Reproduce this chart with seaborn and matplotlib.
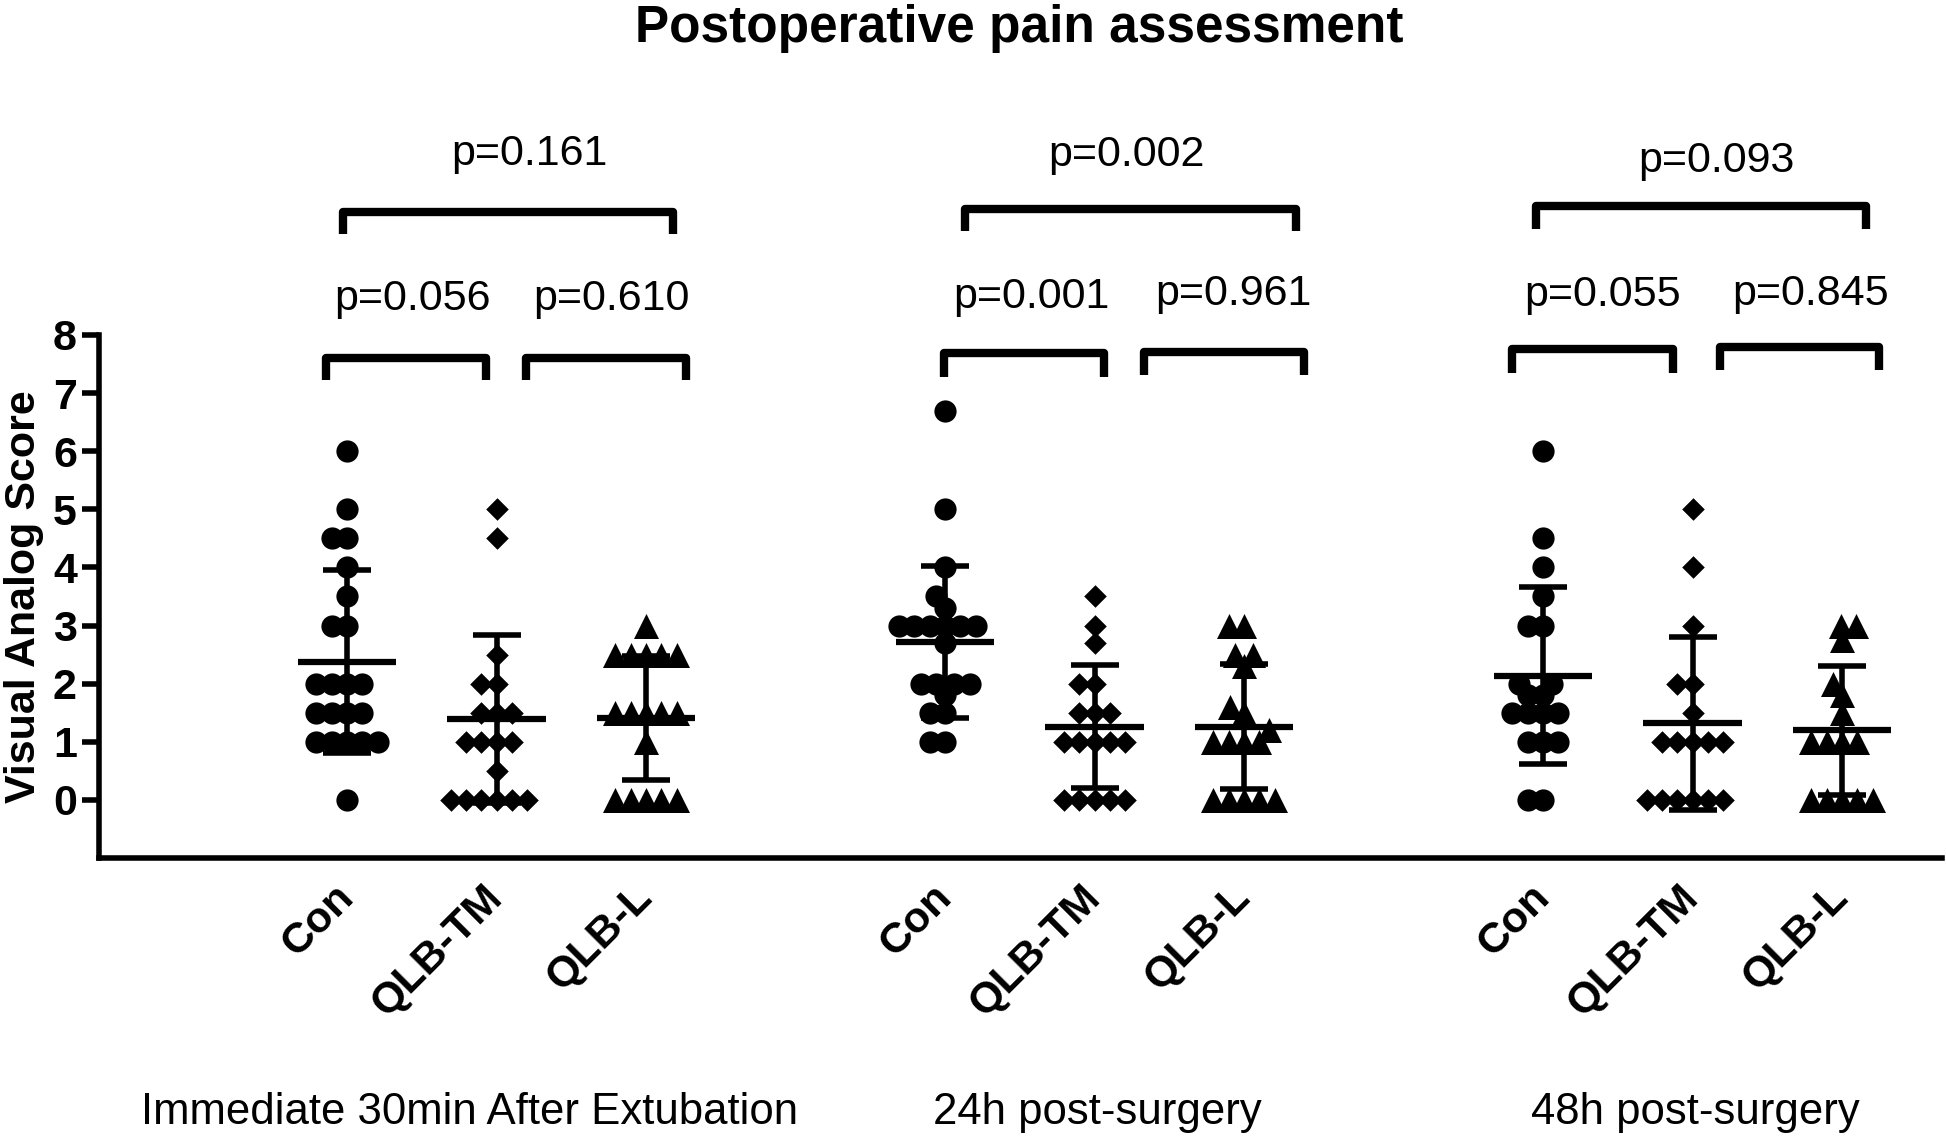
import numpy as np
import pandas as pd
import matplotlib
matplotlib.use("Agg")
import matplotlib.pyplot as plt
import seaborn as sns
from matplotlib.transforms import blended_transform_factory

# ---------------- data ----------------
timepoints = ["Immediate 30min After Extubation", "24h post-surgery", "48h post-surgery"]
groups = ["Con", "QLB-TM", "QLB-L"]

con_30min = [6, 5, 4.5, 4.5, 4, 3.5, 3, 3, 2, 2, 2, 2, 1.5, 1.5, 1.5, 1.5, 1, 1, 1, 1, 1, 0]
tm_30min = [5, 4.5, 2.5, 2, 2, 1.5, 1.5, 1.5, 1, 1, 1, 1, 0.5, 0, 0, 0, 0, 0, 0]
l_30min = [3, 2.5, 2.5, 2.5, 2.5, 2.5, 1.5, 1.5, 1.5, 1.5, 1.5, 1, 0, 0, 0, 0, 0]

con_24h = [6.7, 5, 4, 3.5, 3.3, 3, 3, 3, 3, 3, 3, 2.7, 2, 2, 2, 2, 1.8, 1.5, 1.5, 1, 1]
tm_24h = [3.5, 3, 2.7, 2, 2, 1.5, 1.5, 1.5, 1, 1, 1, 1, 1, 0, 0, 0, 0, 0]
l_24h = [3, 3, 2.5, 2.5, 2.3, 1.6, 1.5, 1.2, 1, 1, 1, 1, 0, 0, 0, 0, 0]

con_48h = [6, 4.5, 4, 3.5, 3, 3, 2, 2, 1.8, 1.8, 1.5, 1.5, 1.5, 1.5, 1, 1, 1, 0, 0]
tm_48h = [5, 4, 3, 2, 2, 1.5, 1, 1, 1, 1, 1, 0, 0, 0, 0, 0, 0]
l_48h = [3, 3, 2.75, 2, 1.8, 1.5, 1, 1, 1, 1, 0, 0, 0, 0, 0]

# mean and SD bars as drawn in the figure (Con, QLB-TM, QLB-L per time point)
means = [2.38, 1.39, 1.41, 2.72, 1.26, 1.26, 2.14, 1.32, 1.20]
sds = [1.58, 1.45, 1.06, 1.31, 1.06, 1.08, 1.52, 1.49, 1.11]

p_pairwise = [("p=0.056", "p=0.610"), ("p=0.001", "p=0.961"), ("p=0.055", "p=0.845")]
p_overall = ["p=0.161", "p=0.002", "p=0.093"]

yticks = [0, 1, 2, 3, 4, 5, 6, 7, 8]
title = "Postoperative pain assessment"
ylabel = "Visual Analog Score"

series = {
    (timepoints[0], "Con"): con_30min, (timepoints[0], "QLB-TM"): tm_30min, (timepoints[0], "QLB-L"): l_30min,
    (timepoints[1], "Con"): con_24h, (timepoints[1], "QLB-TM"): tm_24h, (timepoints[1], "QLB-L"): l_24h,
    (timepoints[2], "Con"): con_48h, (timepoints[2], "QLB-TM"): tm_48h, (timepoints[2], "QLB-L"): l_48h,
}

# ---------------- layout / style ----------------
markers = {"Con": "o", "QLB-TM": "D", "QLB-L": "^"}
marker_size = {"Con": 16, "QLB-TM": 11.5, "QLB-L": 18}
swarm_layout_size = 10.5

# bracket geometry relative to each group's "Con" position (x) and in data units (y)
lower_br = [  # (x0, x1, ybar, yleg) for Con-TM and TM-L brackets
    [(-0.14, 0.93, 7.60, 7.22), (1.20, 2.27, 7.60, 7.22)],
    [(-0.01, 1.06, 7.69, 7.28), (1.33, 2.40, 7.71, 7.31)],
    [(-0.21, 0.87, 7.76, 7.35), (1.18, 2.25, 7.79, 7.40)],
]
upper_br = [(-0.03, 2.18, 10.12, 9.74), (0.13, 2.35, 10.17, 9.79), (-0.05, 2.16, 10.22, 9.82)]
lower_txt = [[(0.44, 8.43), (1.77, 8.43)], [(0.58, 8.46), (1.93, 8.52)], [(0.40, 8.49), (1.79, 8.52)]]
upper_txt = [(1.22, 10.92), (1.21, 10.90), (1.16, 10.81)]
group_label_dx = [-0.18, 0.02, 0.02]

sns.set_theme(style="ticks", rc={"text.color": "black", "axes.labelcolor": "black",
                                 "xtick.color": "black", "ytick.color": "black",
                                 "axes.edgecolor": "black"})
plt.rcParams["font.family"] = ["Liberation Sans", "DejaVu Sans"]

# ---------------- long-form table ----------------
rows = []
order = []
for ti, tp in enumerate(timepoints):
    order.append(" " * (ti + 1))  # empty spacer category
    for g in groups:
        key = f"{tp}|{g}"
        order.append(key)
        for v in series[(tp, g)]:
            rows.append({"slot": key, "group": g, "vas": v})
df = pd.DataFrame(rows)

fig = plt.figure(figsize=(19.46, 11.37), dpi=100)
ax = fig.add_axes([0.0509, 0.2454, 0.9471, 0.4600])

new_colls = []
for g in groups:
    n0 = len(ax.collections)
    sns.swarmplot(data=df[df["group"] == g], x="slot", y="vas", order=order,
                  color="black", marker=markers[g], size=swarm_layout_size,
                  linewidth=0, ax=ax, zorder=2)
    for c in ax.collections[n0:]:
        new_colls.append((c, marker_size[g]))

xlim = (-0.659, 11.669)
ax.set_xlim(*xlim)
ax.set_ylim(-1.0, 8.0)

# compute swarm layout once with the compact size, then enlarge markers (Prism-like overlap)
fig.canvas.draw()
for c, s in new_colls:
    if "draw" in c.__dict__:
        del c.__dict__["draw"]
    c.set_sizes([s ** 2])

# mean +/- SD
data_keys = [k for k in order if "|" in k]
xpos = [order.index(k) for k in data_keys]
ax.errorbar(xpos, means, yerr=sds, fmt="none", ecolor="black", elinewidth=4,
            capsize=17, capthick=4, zorder=3)
ax.errorbar(xpos, means, xerr=0.33, fmt="none", ecolor="black", elinewidth=4.5,
            capsize=0, zorder=3)

# significance brackets
for gi, tp in enumerate(timepoints):
    c0 = order.index(f"{tp}|Con")
    for bi, (x0, x1, yb, yl) in enumerate(lower_br[gi]):
        ax.plot([c0 + x0, c0 + x0, c0 + x1, c0 + x1], [yl, yb, yb, yl], color="black",
                lw=6, solid_capstyle="butt", solid_joinstyle="round", clip_on=False)
        tx, ty = lower_txt[gi][bi]
        ax.text(c0 + tx, ty, p_pairwise[gi][bi], ha="center", va="baseline",
                fontsize=31, color="black", clip_on=False)
    x0, x1, yb, yl = upper_br[gi]
    ax.plot([c0 + x0, c0 + x0, c0 + x1, c0 + x1], [yl, yb, yb, yl], color="black",
            lw=6, solid_capstyle="butt", solid_joinstyle="round", clip_on=False)
    tx, ty = upper_txt[gi]
    ax.text(c0 + tx, ty, p_overall[gi], ha="center", va="baseline", fontsize=31,
            color="black", clip_on=False)

# axes styling
for side in ["top", "right"]:
    ax.spines[side].set_visible(False)
for side in ["left", "bottom"]:
    ax.spines[side].set_linewidth(4)
    ax.spines[side].set_color("black")

ax.set_yticks(yticks)
ax.set_yticklabels([str(t) for t in yticks], fontsize=31, fontweight="bold", color="black")
ax.tick_params(axis="y", length=12, width=4, pad=4, color="black")
ax.set_xticks(range(len(order)))
ax.set_xticklabels([k.split("|")[1] if "|" in k else "" for k in order],
                   fontsize=31, fontweight="bold", rotation=45, ha="right",
                   va="center", rotation_mode="anchor", color="black")
ax.tick_params(axis="x", length=0, pad=24)
ax.set_xlabel("")
ax.set_ylabel(ylabel, fontsize=31, fontweight="bold", va="center", color="black")
ax.yaxis.set_label_coords(-0.0405, 0.5)
ax.grid(False)

trans = blended_transform_factory(ax.transData, fig.transFigure)
for gi, tp in enumerate(timepoints):
    cx = order.index(f"{tp}|QLB-TM") + group_label_dx[gi]
    ax.text(cx, 0.011, tp, transform=trans, ha="center", va="baseline",
            fontsize=31.5, color="black")

fig.text(0.524, 0.963, title, ha="center", va="baseline", fontsize=37,
         fontweight="bold", color="black")

fig.savefig("out.png", dpi=100)
